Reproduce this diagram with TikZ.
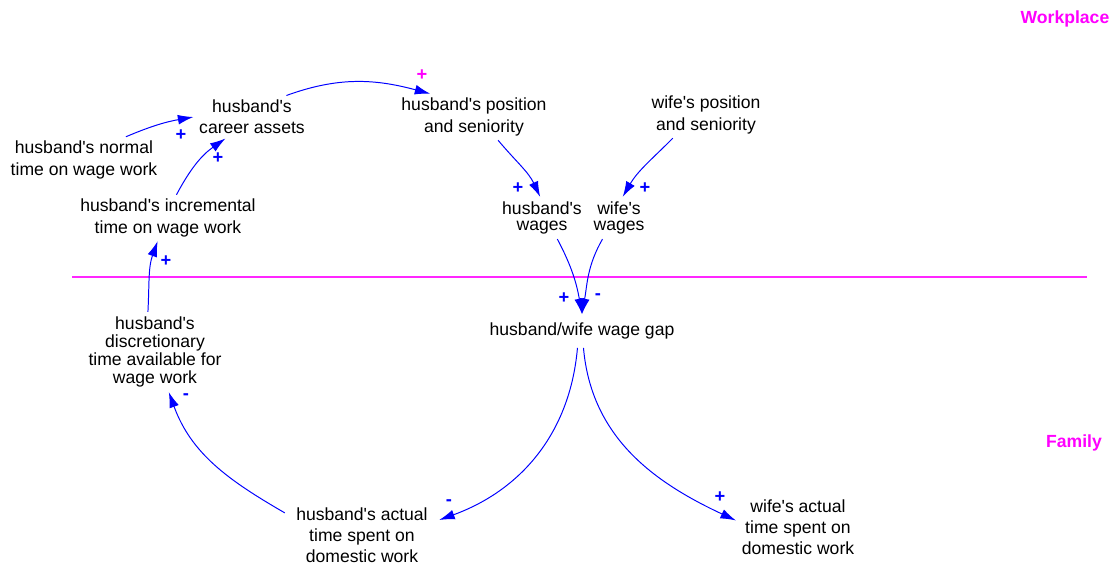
\documentclass[tikz,border=0pt]{standalone}
\usepackage{fontspec}
\setmainfont{Liberation Sans}[Ligatures=TeXOff]
\usetikzlibrary{arrows.meta}
\definecolor{zonepink}{RGB}{255,0,255}
\definecolor{linkblue}{RGB}{0,0,255}

\begin{document}
\begin{tikzpicture}[x=0.025cm, y=0.025cm,
	var/.style={align=center, inner xsep=4pt, inner ysep=3pt, font=\fontsize{12.5}{15}\selectfont},
	link/.style={draw=linkblue, line width=0.7pt, -{Latex[length=11pt,width=7pt]}},
	sgn/.style={text=linkblue, inner sep=0pt, font=\bfseries\fontsize{13}{15}\selectfont},
	zone/.style={text=zonepink, inner sep=0pt, font=\bfseries\fontsize{12.5}{15}\selectfont}]
		\useasboundingbox (0,0) rectangle (1114,-564);
		% Zones
		\node[zone] (work) at (1065,-19) {Workplace};
		\node[zone] (fam) at (1074,-443) {Family};
		\draw[zonepink!85, line width=0.75pt] (72,-277) -- (1087,-277);
		% Workplace variables
		\node[var] (career) at (252,-117) {husband's\\career assets};
		\node[var] (norm) at (84,-160) {husband's normal\\time on wage work};
		\node[var] (incr) at (168,-218) {husband's incremental\\time on wage work};
		\node[var] (hpos) at (474,-117) {husband's position\\and seniority};
		\node[var] (wpos) at (706,-115) {wife's position\\and seniority};
		\node[var, font=\fontsize{12.5}{12}\selectfont] (hwage) at (542,-218) {husband's\\wages};
		\node[var, font=\fontsize{12.5}{12}\selectfont] (wwage) at (619,-218) {wife's\\wages};
		% Family variables
		\node[var, inner ysep=6pt] (gap) at (582,-331) {husband/wife wage gap};
		\node[var, font=\fontsize{12.5}{13}\selectfont] (disc) at (155,-352) {husband's\\discretionary\\time available for\\wage work};
		\node[var, inner xsep=8pt] (hact) at (362,-535) {husband's actual\\time spent on\\domestic work};
		\node[var] (wact) at (798,-527) {wife's actual\\time spent on\\domestic work};
		% Draw links
		\draw[link] (norm.29) to[out=23,in=190] (career.west);
		\draw[link] (incr.70) to[out=62,in=215] (career.219);
		\draw[link] (disc.100) to[out=87,in=250] (incr.246);
		\draw[link] (career.32) to[out=20,in=165] (hpos.152);
		\draw[link] (hpos.316) to[out=-50,in=115] (hwage.95);
		\draw[link] (wpos.215) to[out=225,in=60] (wwage.80);
		\draw[link] (hwage.306) to[out=-62,in=100] (gap.north);
		\draw[link] (wwage.232) to[out=240,in=80] (gap.north);
		\draw[link] (gap.255) to[out=265,in=20] (hact.11);
		\draw[link] (hact.164) to[out=150,in=290] (disc.289);
		\draw[link] (gap.275) to[out=275,in=155] (wact.174);
		% Polarities
		\node[sgn] (s1) at (181,-135) {+};
		\node[sgn] (s2) at (218,-158) {+};
		\node[sgn] (s3) at (166,-261) {+};
		\node[sgn, text=zonepink] (s4) at (422,-75) {+};
		\node[sgn] (s5) at (518,-188) {+};
		\node[sgn] (s6) at (645,-188) {+};
		\node[sgn] (s7) at (564,-298) {+};
		\node[sgn] (s8) at (598,-297) {-};
		\node[sgn] (s9) at (186,-397) {-};
		\node[sgn] (s10) at (449,-503) {-};
		\node[sgn] (s11) at (720,-497) {+};
	\end{tikzpicture}
\end{document}
